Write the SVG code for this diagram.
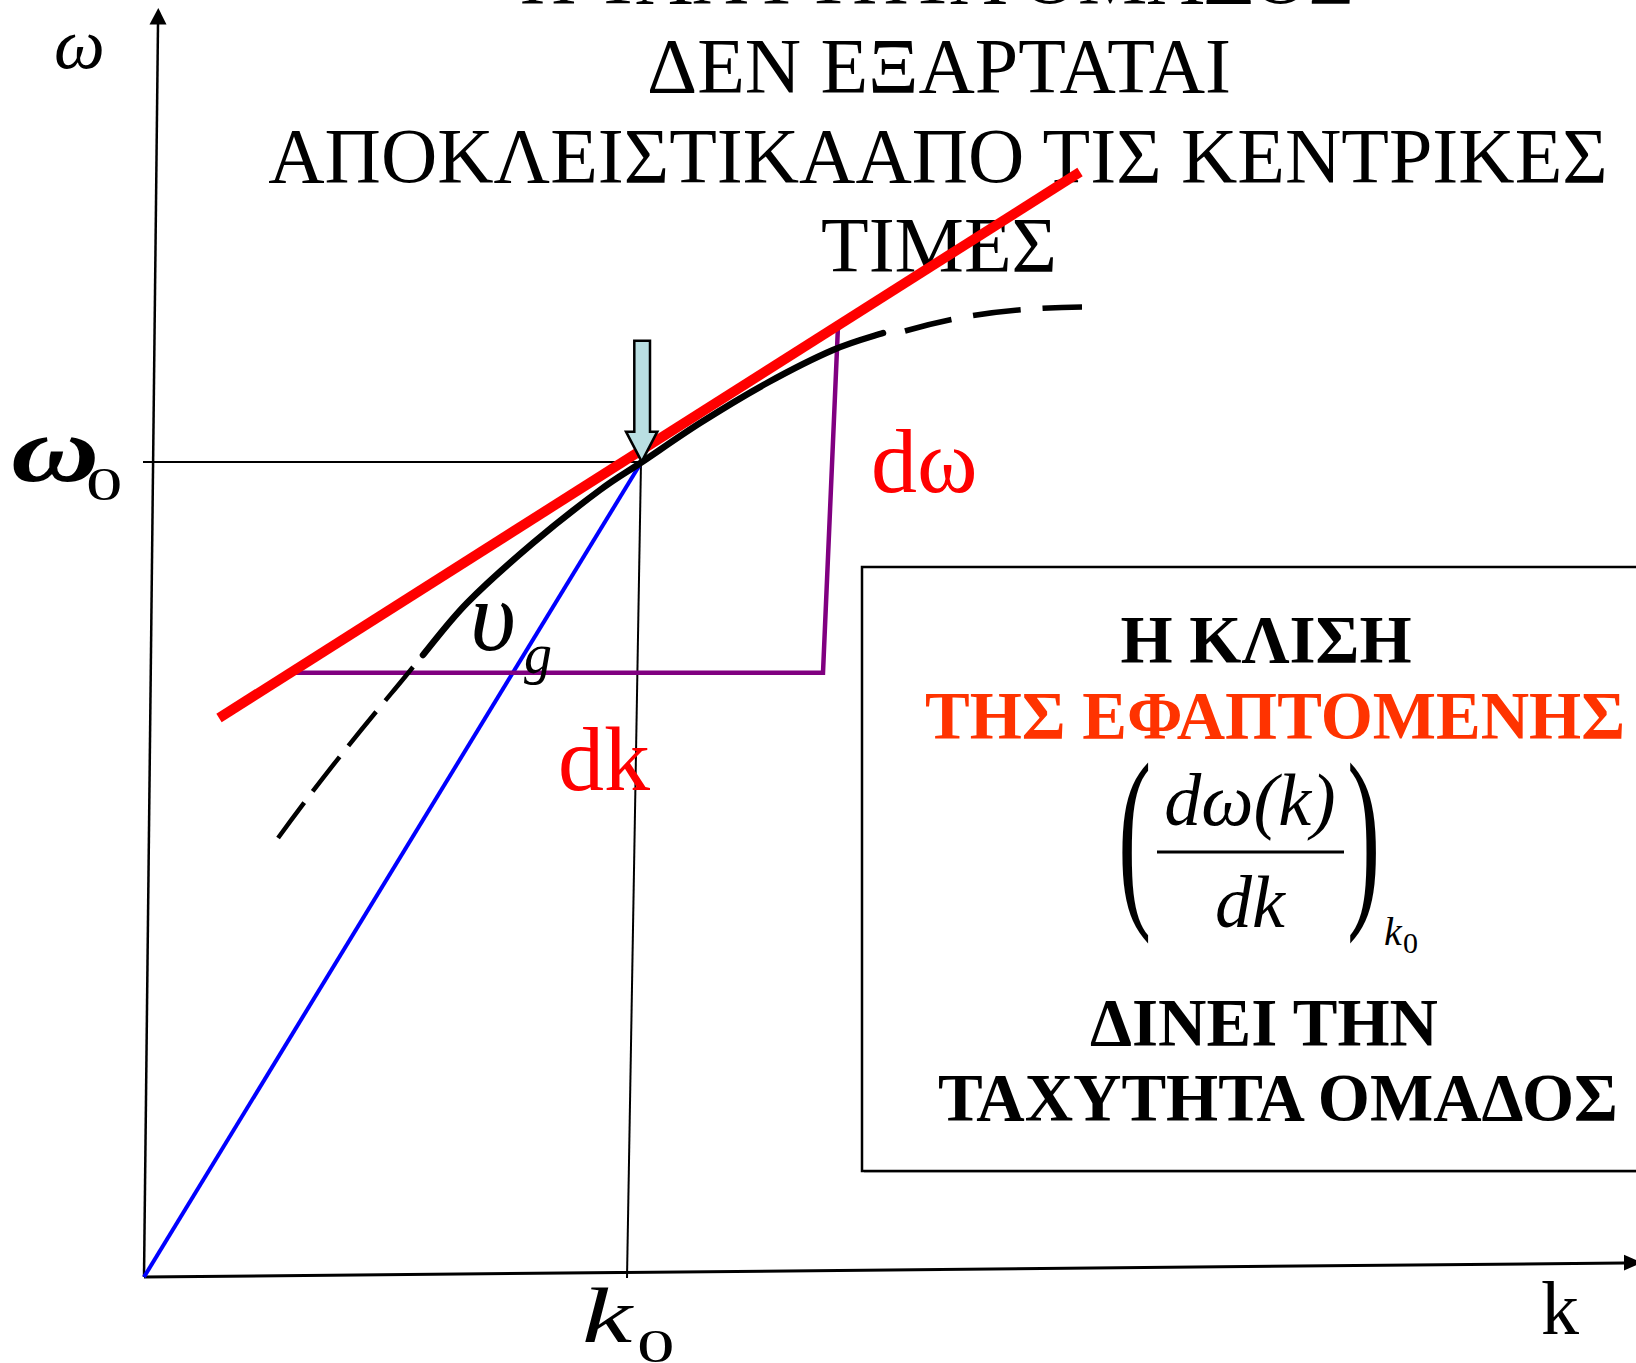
<svg xmlns="http://www.w3.org/2000/svg" width="1636" height="1363" viewBox="0 0 1636 1363">
<defs>
<style>
.serif{font-family:"Liberation Serif","Times New Roman",serif;}
.title{font-family:"Liberation Serif","Times New Roman",serif;font-size:78px;fill:#000;text-anchor:middle;}
.boxt{font-family:"Liberation Serif","Times New Roman",serif;font-size:67px;font-weight:bold;text-anchor:middle;}
.red{fill:#ff0000;}
.it{font-style:italic;}
</style>
</defs>
<rect width="1636" height="1363" fill="#fff"/>

<g id="title">
<text class="title" x="937" y="3">Η ΤΑΧΥΤΗΤΑ ΟΜΑΔΟΣ</text>
<text class="title" x="939" y="92">ΔΕΝ ΕΞΑΡΤΑΤΑΙ</text>
<text class="title" x="938" y="182">ΑΠΟΚΛΕΙΣΤΙΚΑΑΠΟ ΤΙΣ ΚΕΝΤΡΙΚΕΣ</text>
<text class="title" x="939" y="271">ΤΙΜΕΣ</text>
</g>

<g id="connectors">
<!-- axes -->
<line x1="144" y1="1277" x2="158" y2="24" stroke="#000" stroke-width="2.5"/>
<path d="M158.3,8 L166.5,24.5 L149.5,24.5 z" fill="#000"/>
<line x1="144" y1="1277" x2="1624" y2="1263" stroke="#000" stroke-width="3"/>
<path d="M1642,1262.6 L1624,1254.8 L1624,1270.6 z" fill="#000"/>
<!-- omega0 and k0 guide lines -->
<line x1="143" y1="462" x2="641" y2="462" stroke="#000" stroke-width="2"/>
<line x1="641" y1="462" x2="627" y2="1278" stroke="#000" stroke-width="2"/>
<!-- blue line -->
<line x1="144" y1="1277" x2="641.5" y2="462" stroke="#0000ff" stroke-width="4"/>
<!-- purple dk / domega -->
<polyline points="295,672.7 823,672.7 838,326" fill="none" stroke="#800080" stroke-width="4.5"/>
<!-- dispersion curve -->
<path d="M423,655 C430.3,646.3 448.7,621.7 467,603 C485.3,584.3 510.8,561.8 533,543 C555.2,524.2 581.8,503.5 600,490 C618.2,476.5 625.3,473.2 642,462 C658.7,450.8 679.2,436.2 700,423 C720.8,409.8 744.8,395.2 767,383 C789.2,370.8 813.7,358.3 833,350 C852.3,341.7 874.7,335.8 883,333" fill="none" stroke="#000" stroke-width="6.5" stroke-linecap="round"/>
<path d="M413,667 C390,696 340,752 273,845" fill="none" stroke="#000" stroke-width="4.5" stroke-dasharray="44 14"/>
<path d="M905,331 C950,318 1000,308 1082,307" fill="none" stroke="#000" stroke-width="5.5" stroke-dasharray="48 22"/>
<!-- tangent -->
<line x1="219" y1="718" x2="1080" y2="172" stroke="#ff0000" stroke-width="10"/>
</g>

<g id="pointer">
<path d="M634.3,340.7 L650,340.7 L650,431.7 L657.3,431.7 L641.7,461.7 L626,431.7 L634.3,431.7 z" fill="#b9dfe2" stroke="#000" stroke-width="2.5" stroke-linejoin="miter"/>
</g>

<g id="axis-labels">
<text class="serif it" x="54" y="68" font-size="72">ω</text>
<text class="serif it" transform="translate(11,481) scale(1.3,1)" font-size="94" font-weight="bold">ω</text>
<text class="serif" transform="translate(86,500) scale(1.55,1)" font-size="47">0</text>
<text class="serif it" transform="translate(582,1342) scale(1.45,1)" font-size="78">k</text>
<text class="serif" transform="translate(637,1362) scale(1.6,1)" font-size="47">0</text>
<text class="serif" x="1541" y="1334" font-size="76">k</text>
</g>

<g id="labels">
<text class="serif red" x="871" y="492" font-size="92">dω</text>
<text class="serif red" x="558" y="790" font-size="92">dk</text>
<text class="serif it" x="470" y="650" font-size="100">υ</text>
<text class="serif it" x="524" y="673" font-size="56">g</text>
</g>

<g id="infobox">
<rect x="864" y="569" width="790" height="604" fill="#c8c8c8"/>
<rect x="862" y="567" width="790" height="604" fill="#fff" stroke="#000" stroke-width="2.5"/>
<text class="boxt" x="1266" y="662" fill="#000">Η ΚΛΙΣΗ</text>
<text class="boxt" x="1275" y="738" fill="#ff3300">ΤΗΣ ΕΦΑΠΤΟΜΕΝΗΣ</text>
<text class="serif" transform="translate(1118,901) scale(0.5,1)" font-size="200">(</text>
<text class="serif" transform="translate(1347,901) scale(0.5,1)" font-size="200">)</text>
<text class="serif it" x="1250" y="825" font-size="74" text-anchor="middle">dω(k)</text>
<line x1="1157" y1="852" x2="1344" y2="852" stroke="#000" stroke-width="3"/>
<text class="serif it" x="1250" y="927" font-size="74" text-anchor="middle">dk</text>
<text class="serif it" x="1384" y="945" font-size="40">k</text>
<text class="serif" x="1403" y="953" font-size="30">0</text>
<text class="boxt" x="1264" y="1045" fill="#000">ΔΙΝΕΙ ΤΗΝ</text>
<text class="boxt" x="1278" y="1120" fill="#000">ΤΑΧΥΤΗΤΑ ΟΜΑΔΟΣ</text>
</g>
</svg>
